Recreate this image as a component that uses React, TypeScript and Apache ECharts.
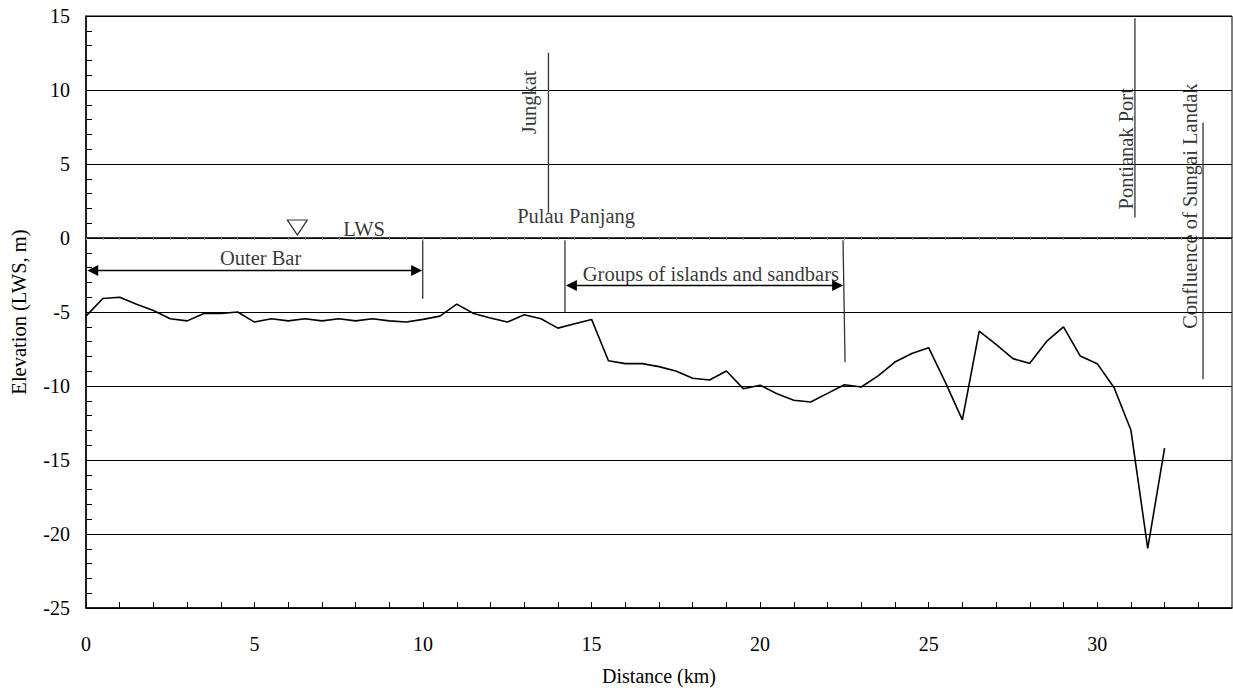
import React, { useEffect, useRef } from "react";
import * as echarts from "echarts";

// Longitudinal profile (distance in km, elevation in m relative to LWS)
const distances = [
  0, 0.5, 1, 1.5, 2, 2.5, 3, 3.5, 4, 4.5, 5, 5.5, 6, 6.5, 7, 7.5, 8, 8.5, 9, 9.5,
  10, 10.5, 11, 11.5, 12, 12.5, 13, 13.5, 14, 14.5, 15, 15.5, 16, 16.5, 17, 17.5,
  18, 18.5, 19, 19.5, 20, 20.5, 21, 21.5, 22, 22.5, 23, 23.5, 24, 24.5, 25, 25.5,
  26, 26.5, 27, 27.5, 28, 28.5, 29, 29.5, 30, 30.5, 31, 31.5, 32,
];
const elevations = [
  -5.28, -4.09, -4.0, -4.47, -4.9, -5.46, -5.6, -5.1, -5.1, -5.0, -5.68, -5.46, -5.6,
  -5.46, -5.6, -5.46, -5.6, -5.46, -5.6, -5.68, -5.5, -5.28, -4.47, -5.1, -5.4, -5.68,
  -5.19, -5.46, -6.09, -5.8, -5.5, -8.29, -8.49, -8.49, -8.69, -8.99, -9.48, -9.59,
  -8.99, -10.18, -9.95, -10.52, -10.96, -11.08, -10.5, -9.91, -10.07, -9.32, -8.38,
  -7.8, -7.41, -9.77, -12.29, -6.29, -7.19, -8.15, -8.47, -6.99, -6.0, -7.98, -8.49,
  -10.1, -12.97, -20.97, -14.2,
];

// Axis settings
const xMin = 0;
const xMax = 34;
const yMin = -25;
const yMax = 15;

// Annotation marker lines: [x1, y1, x2, y2] in km / m
const markerLines = [
  [9.99, -0.15, 9.99, -4.1], // end of outer bar
  [14.21, -0.15, 14.21, -5.05], // Pulau Panjang
  [22.46, -0.15, 22.52, -8.4], // end of islands group
  [13.72, 12.52, 13.72, 1.7], // Jungkat
  [31.12, 14.84, 31.12, 1.38], // Pontianak Port
  [33.14, 7.8, 33.14, -9.55], // Confluence
];

// Double-headed range arrows: [xStart, xEnd, y]
const rangeArrows = [
  [0.2, 9.81, -2.2],
  [14.4, 22.3, -3.21],
];

// Text annotations: [text, x, y, rotate, align]
const annotations: [string, number, number, number, string][] = [
  ["LWS", 7.63, 0.63, 0, "left"],
  ["Outer Bar", 5.18, -1.34, 0, "center"],
  ["Pulau Panjang", 14.54, 1.48, 0, "center"],
  ["Groups of islands and sandbars", 18.54, -2.4, 0, "center"],
  ["Jungkat", 13.15, 9.16, 90, "center"],
  ["Pontianak Port", 30.86, 6.03, 90, "center"],
  ["Confluence of Sungai Landak", 32.76, 2.15, 90, "center"],
];

// LWS water-level symbol
const lwsSymbol = [6.27, 0.71];

const FONT = "'Liberation Serif', 'Times New Roman', serif";

export default function App() {
  const ref = useRef<HTMLDivElement>(null);

  useEffect(() => {
    if (!ref.current) return;
    const chart = echarts.init(ref.current, null, { renderer: "svg" });

    const profile = distances.map((d, i) => [d, elevations[i]]);

    const lineSeries = markerLines.map((l) => ({
      type: "line",
      data: [
        [l[0], l[1]],
        [l[2], l[3]],
      ],
      symbol: "none",
      silent: true,
      lineStyle: { color: "#333", width: 1.3 },
      z: 3,
    }));

    const option: any = {
      animation: false,
      backgroundColor: "#fff",
      textStyle: { fontFamily: FONT },
      grid: {
        left: 86,
        top: 16,
        width: 1146,
        height: 593,
        show: true,
        borderColor: "#000",
        borderWidth: 1,
        backgroundColor: "transparent",
      },
      xAxis: [
        {
          type: "value",
          min: xMin,
          max: xMax,
          interval: 1,
          axisLine: { onZero: false, lineStyle: { color: "#000", width: 1.5 } },
          axisTick: { inside: true, length: 6, lineStyle: { color: "#000" } },
          axisLabel: {
            margin: 26,
            color: "#000",
            fontFamily: FONT,
            fontSize: 20,
            formatter: (v: number) => (v % 5 === 0 ? String(v) : ""),
            showMaxLabel: false,
          },
          splitLine: { show: false },
          name: "Distance (km)",
          nameLocation: "middle",
          nameGap: 58,
          nameTextStyle: { color: "#000", fontFamily: FONT, fontSize: 20 },
        },
        {
          type: "value",
          min: xMin,
          max: xMax,
          interval: 0.5,
          position: "bottom",
          axisLine: {
            onZero: true,
            onZeroAxisIndex: 0,
            lineStyle: { color: "#000", width: 1.5 },
          },
          axisTick: { inside: false, length: 2, lineStyle: { color: "#999" } },
          axisLabel: { show: false },
          splitLine: { show: false },
        },
      ],
      yAxis: {
        type: "value",
        min: yMin,
        max: yMax,
        interval: 5,
        axisLine: { onZero: false, lineStyle: { color: "#000", width: 1.5 } },
        axisTick: { inside: true, length: 6, lineStyle: { color: "#000" } },
        minorTick: { show: true, splitNumber: 5, length: 6, lineStyle: { color: "#000" } },
        axisLabel: {
          margin: 16,
          color: "#000",
          fontFamily: FONT,
          fontSize: 20,
        },
        splitLine: { show: true, lineStyle: { color: "#000", width: 1 } },
        name: "Elevation (LWS, m)",
        nameLocation: "middle",
        nameGap: 57,
        nameTextStyle: { color: "#000", fontFamily: FONT, fontSize: 20.5 },
      },
      series: [
        {
          type: "line",
          data: profile,
          symbol: "none",
          lineStyle: { color: "#000", width: 1.6 },
          z: 4,
          markLine: {
            silent: true,
            symbol: ["triangle", "triangle"],
            symbolSize: 11,
            label: { show: false },
            lineStyle: { color: "#000", width: 1.3, type: "solid" },
            emphasis: { disabled: true },
            data: rangeArrows.map((a) => [
              { coord: [a[0], a[2]] },
              { coord: [a[1], a[2]] },
            ]),
          },
        },
        ...lineSeries,
        {
          type: "scatter",
          data: [lwsSymbol],
          symbol: "triangle",
          symbolRotate: 180,
          symbolSize: [20, 15],
          silent: true,
          itemStyle: { color: "#fff", borderColor: "#000", borderWidth: 1.2 },
          z: 5,
        },
        {
          type: "scatter",
          symbolSize: 0,
          silent: true,
          z: 6,
          data: annotations.map((a) => ({
            value: [a[1], a[2]],
            label: {
              show: true,
              formatter: a[0],
              position: "inside",
              rotate: a[3],
              align: a[4],
              verticalAlign: "middle",
              color: "#000",
              fontFamily: FONT,
              fontSize: 20.5,
            },
          })),
        },
      ],
    };

    chart.setOption(option);
    return () => chart.dispose();
  }, []);

  return (
    <div
      ref={ref}
      style={{ position: "fixed", left: 0, top: 0, width: 1233, height: 691, background: "#fff" }}
    />
  );
}
